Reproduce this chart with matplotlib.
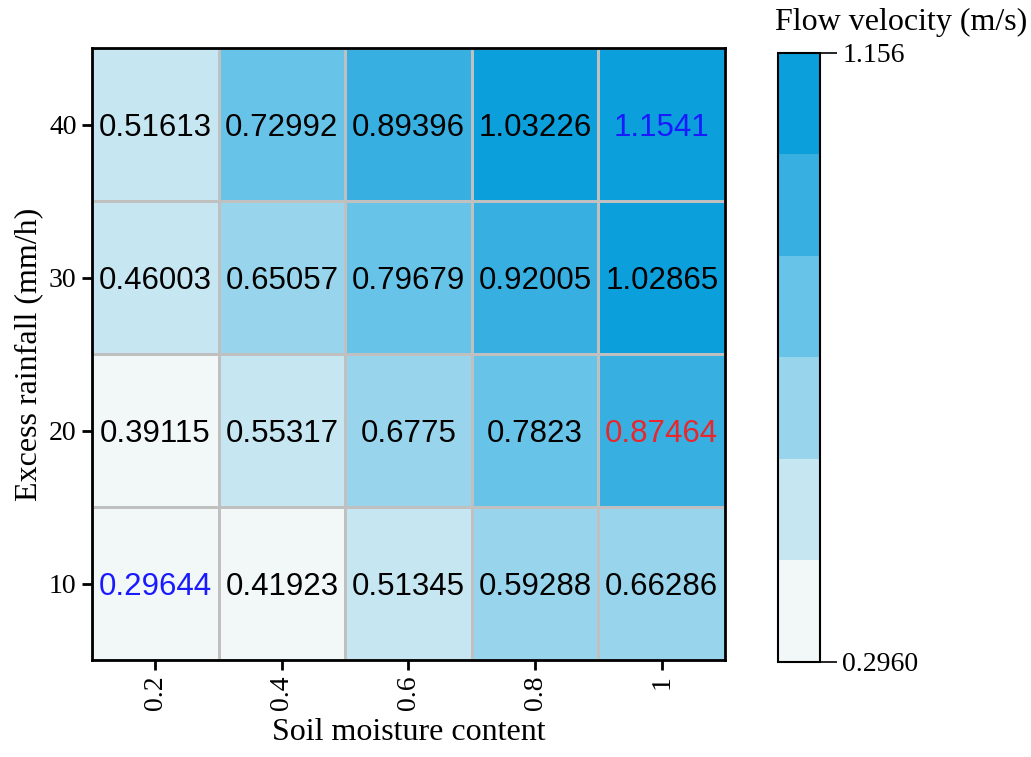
import numpy as np
import matplotlib
matplotlib.use("Agg")
import matplotlib.pyplot as plt
from matplotlib.colors import ListedColormap, BoundaryNorm

# data
moisture = ["0.2", "0.4", "0.6", "0.8", "1"]
rainfall = ["10", "20", "30", "40"]
velocity = [
    [0.29644, 0.41923, 0.51345, 0.59288, 0.66286],  # 10 mm/h
    [0.39115, 0.55317, 0.6775, 0.7823, 0.87464],    # 20 mm/h
    [0.46003, 0.65057, 0.79679, 0.92005, 1.02865],  # 30 mm/h
    [0.51613, 0.72992, 0.89396, 1.03226, 1.1541],   # 40 mm/h
]
labels = [
    ["0.29644", "0.41923", "0.51345", "0.59288", "0.66286"],
    ["0.39115", "0.55317", "0.6775", "0.7823", "0.87464"],
    ["0.46003", "0.65057", "0.79679", "0.92005", "1.02865"],
    ["0.51613", "0.72992", "0.89396", "1.03226", "1.1541"],
]
vmin, vmax = 0.2960, 1.156
n_levels = 6
colours = ['#f2f8f7', '#c6e7f1', '#98d5ec', '#67c3e8', '#37b0e1', '#0b9fdb']
# highlighted cells: min/max in blue, one in red
highlight = {(0, 0): '#1a1aff', (3, 4): '#1a1aff', (1, 4): '#e8262b'}

vel = np.array(velocity)
bounds = np.linspace(vmin, vmax, n_levels + 1)
cmap = ListedColormap(colours)
norm = BoundaryNorm(bounds, cmap.N)

fig = plt.figure(figsize=(10.31, 7.57), dpi=100)
ax = fig.add_axes([0.0892, 0.128, 0.614, 0.808])
mesh = ax.pcolormesh(vel, cmap=cmap, norm=norm, edgecolor='#c0c0c0', linewidth=2)

for i in range(vel.shape[0]):
    for j in range(vel.shape[1]):
        ax.text(j + 0.5, i + 0.48, labels[i][j], ha='center', va='center',
                fontsize=22.5, family='Liberation Sans',
                color=highlight.get((i, j), 'black'))

ax.set_xticks(np.arange(len(moisture)) + 0.5)
ax.set_xticklabels(moisture, rotation=90, family='Liberation Serif', fontsize=20)
ax.set_yticks(np.arange(len(rainfall)) + 0.5)
ax.set_yticklabels(rainfall, family='Liberation Serif', fontsize=20)
ax.tick_params(width=2, length=7, pad=4)
for s in ax.spines.values():
    s.set_linewidth(2)
ax.set_xlabel("Soil moisture content", family='Liberation Serif', fontsize=23, labelpad=6)
ax.set_ylabel("Excess rainfall (mm/h)", family='Liberation Serif', fontsize=23, labelpad=4)

cax = fig.add_axes([0.7546, 0.1255, 0.0407, 0.8045])
cb = fig.colorbar(mesh, cax=cax)
cb.set_ticks([vmin, vmax])
cb.set_ticklabels(["0.2960", "1.156"])
cb.ax.minorticks_off()
cb.ax.tick_params(length=12, width=1.2, labelsize=20, pad=4)
for t in cb.ax.get_yticklabels():
    t.set_family('Liberation Serif')
cb.outline.set_linewidth(1.5)
fig.text(0.874, 0.97, "Flow velocity (m/s)", ha='center', va='center',
         family='Liberation Serif', fontsize=23)

fig.savefig("out.png", dpi=100)
